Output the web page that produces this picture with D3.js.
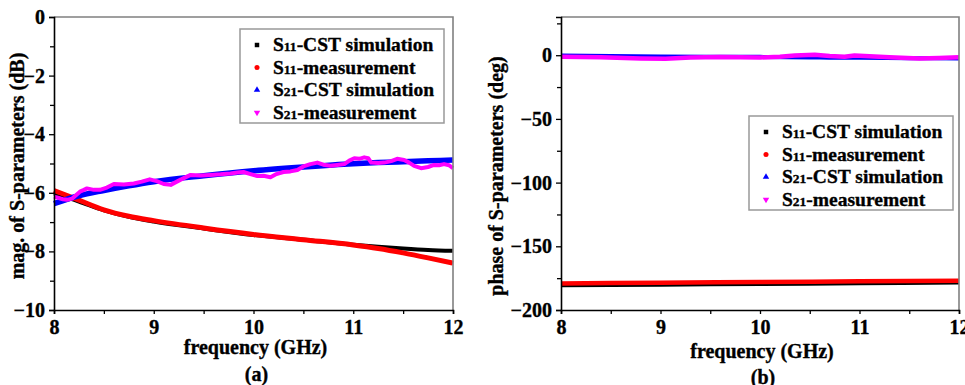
<!DOCTYPE html>
<html>
<head>
<meta charset="utf-8">
<script src="https://cdn.jsdelivr.net/npm/d3@7"></script>
<style>
  body { margin: 0; background: #fff; }
  text { font-family: "Liberation Serif", "Times New Roman", serif; font-weight: bold; fill: #000; stroke: #000; stroke-width: 0.35px; }
</style>
</head>
<body>
<svg width="965" height="385"></svg>
<script>
// ---- data ----
var freqTicks = [8, 9, 10, 11, 12],
    freqMinor = [8.5, 9.5, 10.5, 11.5];

// (a) magnitude, dB
var magFreq      = [8, 8.25, 8.5, 8.75, 9, 9.5, 10, 10.5, 11, 11.25, 11.5, 11.75, 12];
var magS11Sim    = [-6.02, -6.3, -6.6, -6.82, -6.98, -7.22, -7.44, -7.6, -7.77, -7.84, -7.9, -7.95, -7.98];
var magS11Meas   = [-5.92, -6.25, -6.58, -6.8, -6.95, -7.2, -7.42, -7.6, -7.78, -7.9, -8.05, -8.22, -8.4];
var magS21Sim    = [-6.37, -6.1, -5.92, -5.76, -5.62, -5.42, -5.25, -5.12, -5.01, -4.97, -4.94, -4.91, -4.88];
var magMeasFreq  = [8, 8.04, 8.09, 8.13, 8.18, 8.22, 8.26, 8.3, 8.33, 8.4, 8.46, 8.53, 8.6, 8.7, 8.8, 8.88,
                    8.96, 9.03, 9.1, 9.17, 9.27, 9.37, 9.47, 9.57, 9.67, 9.77, 9.84, 9.9,
                    9.97, 10.04, 10.1, 10.17, 10.23, 10.3, 10.37, 10.44, 10.5, 10.57, 10.64, 10.7, 10.77, 10.84,
                    10.91, 10.96, 11.01, 11.06, 11.11, 11.15, 11.18, 11.25, 11.31, 11.38,
                    11.44, 11.51, 11.56, 11.61, 11.68, 11.75, 11.81, 11.86, 11.91, 11.96, 12];
var magS21Meas   = [-6.13, -6.17, -6.22, -6.24, -6.2, -6.08, -5.96, -5.9, -5.85, -5.9, -5.9, -5.82, -5.7, -5.72, -5.68, -5.62,
                    -5.54, -5.6, -5.7, -5.73, -5.55, -5.39, -5.41, -5.39, -5.37, -5.34, -5.31, -5.29,
                    -5.36, -5.43, -5.42, -5.47, -5.36, -5.29, -5.27, -5.22, -5.1, -5.02, -4.97, -5.04, -5.08, -5.05,
                    -5.02, -4.9, -4.82, -4.84, -4.79, -4.82, -4.97, -4.98, -4.97, -4.92,
                    -4.84, -4.88, -4.97, -5.08, -5.16, -5.12, -5.05, -5.06, -5.02, -5.06, -5.16];
var magTicks = [-10, -8, -6, -4, -2, 0],
    magMinor = [-9, -7, -5, -3, -1];

// (b) phase, deg
var phFreq       = [8, 9, 10, 11, 12];
var phS11Sim     = [-180.6, -180.1, -179.6, -179.1, -178.5];
var phS11Meas    = [-179.2, -178.6, -178, -177.5, -177];
var phS21Freq    = [8, 9, 10, 10.5, 11, 11.5, 12];
var phS21Sim     = [-0.2, -1.0, -1.3, -1.8, -2.0, -2.3, -2.6];
var phMeasFreq   = [8, 8.4, 8.8, 9.05, 9.3, 9.6, 10, 10.2, 10.35, 10.55, 10.7, 10.85, 10.95, 11.1, 11.3, 11.6, 11.8, 12];
var phS21Meas    = [-1.3, -1.6, -2.6, -2.8, -1.8, -1.4, -1.8, -1.2, -0.3, 0.3, -0.6, -1.2, -0.2, -0.8, -1.6, -2.6, -2.2, -1.5];
var phTicks = [-200, -150, -100, -50, 0],
    phMinor = [-175, -125, -75, -25, 25];

var legendNames = ["S|11|-CST simulation", "S|11|-measurement", "S|21|-CST simulation", "S|21|-measurement"];
var colors = ["#000000", "#ff0000", "#0000ff", "#ff00ff"];

var svg = d3.select("svg");

function panel(cfg) {
  var x = d3.scaleLinear().domain([8, 12]).range([cfg.left, cfg.right]);
  var y = d3.scaleLinear().domain(cfg.yDomain).range([310, 17]);
  var g = svg.append("g");

  // series
  cfg.series.forEach((s, i) => {
    var line = d3.line().x(d => x(d[0])).y(d => y(d[1]))
                 .curve(i == 3 ? d3.curveLinear : d3.curveMonotoneX);
    g.append("path")
     .datum(d3.zip(s.f, s.v))
     .attr("fill", "none")
     .attr("stroke", colors[i])
     .attr("stroke-width", s.w)
     .attr("stroke-linejoin", "round")
     .attr("d", line);
  });

  // frame
  g.append("path")
   .attr("d", `M${cfg.left},17H${cfg.right}V310`)
   .attr("fill", "none").attr("stroke", "#808080").attr("stroke-width", 1.6);

  var xa = g.append("g").attr("transform", "translate(0,310)")
            .call(d3.axisBottom(x).tickValues(freqTicks).tickSize(4).tickPadding(6).tickFormat(d3.format("d")));
  g.append("g").attr("transform", "translate(0,310)")
   .call(d3.axisBottom(x).tickValues(freqMinor).tickSize(4).tickFormat(""))
   .select(".domain").remove();
  g.append("g").attr("transform", `translate(${cfg.left},0)`)
   .call(d3.axisLeft(y).tickValues(cfg.yTicks).tickSize(5).tickPadding(4).tickFormat(d3.format("d")));
  g.append("g").attr("transform", `translate(${cfg.left},0)`)
   .call(d3.axisLeft(y).tickValues(cfg.yMinor).tickSize(4).tickFormat(""))
   .select(".domain").remove();
  g.selectAll(".domain").attr("stroke-width", 1.6);
  g.selectAll(".tick line").attr("stroke-width", 1.3);
  g.selectAll(".tick text").style("font-size", "20px");

  // axis titles
  g.append("text")
   .attr("transform", `translate(${cfg.ylabX},${cfg.ylabY}) rotate(-90)`)
   .attr("text-anchor", "middle").style("font-size", "20px")
   .text(cfg.ylab);
  g.append("text").attr("x", (cfg.left + cfg.right) / 2 + 2).attr("y", cfg.xlabY)
   .attr("text-anchor", "middle").style("font-size", "20px")
   .text("frequency (GHz)");
  g.append("text").attr("x", (cfg.left + cfg.right) / 2 + 3).attr("y", cfg.capY)
   .attr("text-anchor", "middle").style("font-size", "20px")
   .text(cfg.caption);

  // legend
  var lg = g.append("g").attr("transform", `translate(${cfg.legX},${cfg.legY})`);
  lg.append("rect").attr("width", 204).attr("height", 94)
    .attr("fill", "#fff").attr("stroke", "#999").attr("stroke-width", 1.5);
  var shapes = [d3.symbolSquare, d3.symbolCircle, d3.symbolTriangle, d3.symbolTriangle];
  legendNames.forEach((name, i) => {
    var yy = 22 + i * 22.5;
    lg.append("path")
      .attr("d", d3.symbol().type(shapes[i]).size(i < 2 ? 20 : 18)())
      .attr("transform", `translate(17,${yy - 6})` + (i == 3 ? " rotate(180)" : ""))
      .attr("fill", colors[i]);
    var parts = name.split("|");
    var t = lg.append("text").attr("x", 33).attr("y", yy).style("font-size", "19.5px");
    t.append("tspan").text(parts[0]);
    t.append("tspan").style("font-size", "13.5px").text(parts[1]);
    t.append("tspan").text(parts[2]);
  });
}

panel({
  left: 54, right: 453, yDomain: [-10, 0], yTicks: magTicks, yMinor: magMinor,
  ylab: "mag. of S-parameters (dB)", ylabX: 24, ylabY: 166, xlabY: 354, capY: 381, caption: "(a)",
  legX: 240, legY: 29,
  series: [
    {f: magFreq, v: magS11Sim, w: 4},
    {f: magFreq, v: magS11Meas, w: 5},
    {f: magFreq, v: magS21Sim, w: 5.5},
    {f: magMeasFreq, v: magS21Meas, w: 4}
  ]
});

panel({
  left: 561, right: 959, yDomain: [-200, 30], yTicks: phTicks, yMinor: phMinor,
  ylab: "phase of S-parameters (deg)", ylabX: 503, ylabY: 176, xlabY: 358, capY: 384, caption: "(b)",
  legX: 749, legY: 116,
  series: [
    {f: phFreq, v: phS11Sim, w: 4},
    {f: phFreq, v: phS11Meas, w: 4.5},
    {f: phS21Freq, v: phS21Sim, w: 4},
    {f: phMeasFreq, v: phS21Meas, w: 4.5}
  ]
});
</script>
</body>
</html>
